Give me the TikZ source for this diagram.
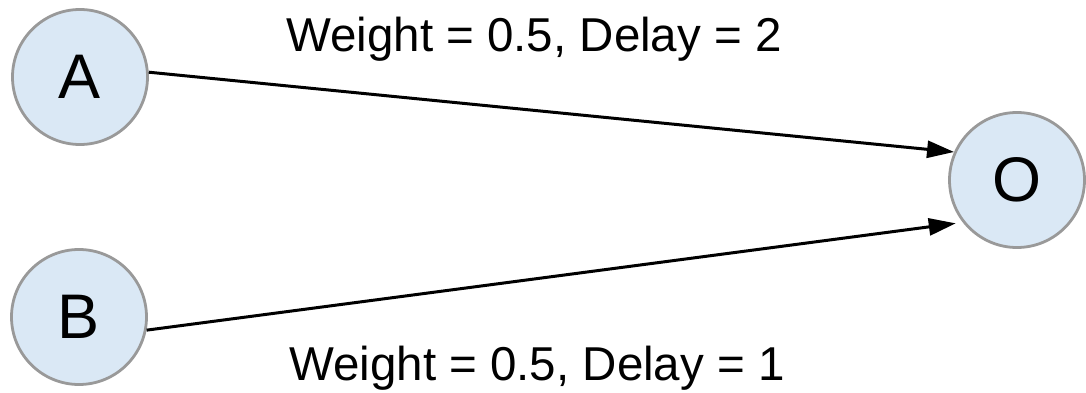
\documentclass[tikz,border=0pt]{standalone}
\usepackage{fontspec}
\setmainfont{Liberation Sans}
\usepackage{xcolor}
\usetikzlibrary{arrows.meta,positioning}
\definecolor{nodefill}{RGB}{218,232,245}
\definecolor{nodeline}{RGB}{153,153,153}

\begin{document}
\begin{tikzpicture}[x=1pt, y=-1pt,
    neuron/.style={circle, draw=nodeline, line width=2.8pt, fill=nodefill,
        minimum size=135pt, inner sep=0pt, font=\fontsize{63}{70}\selectfont},
    synapse/.style={line width=3pt, -{Triangle[length=27pt, width=17pt]}},
    synlabel/.style={anchor=base, inner sep=0pt, font=\fontsize{47.5}{54}\selectfont},
]
    \useasboundingbox (0,0) rectangle (1086,393);

    % Neurons
    \node[neuron] (A) at (80,77)   {A};
    \node[neuron] (B) at (79,317)  {B};
    \node[neuron] (O) at (1017,180) {O};

    % Synapses
    \draw[synapse] (A.4)   -- (O.156);
    \draw[synapse, shorten >=7pt] (B.-11) -- (O.218);

    % Synapse labels
    \node[synlabel] (labAO) at (534,52)  {Weight = 0.5, Delay = 2};
    \node[synlabel] (labBO) at (537,380) {Weight = 0.5, Delay = 1};
\end{tikzpicture}
\end{document}
